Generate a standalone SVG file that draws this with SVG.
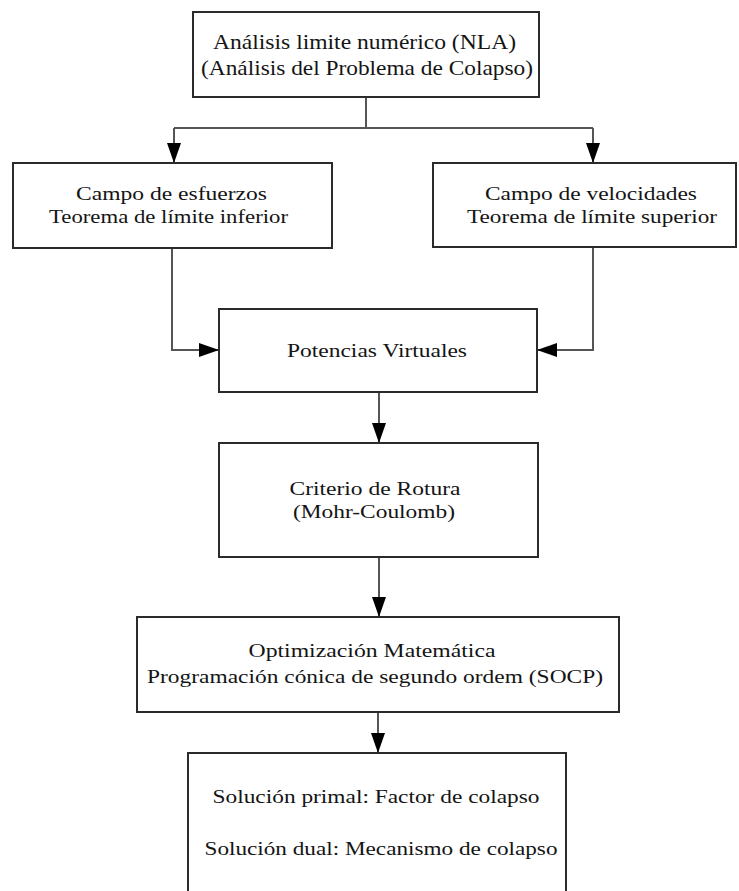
<svg xmlns="http://www.w3.org/2000/svg" width="739" height="891" viewBox="0 0 739 891">
<style>
.box{fill:#fff;stroke:#2b2b2b;stroke-width:2}
.t{font-family:"Liberation Serif","Times New Roman",serif;font-size:19px;fill:#141414;text-anchor:middle}
.big{font-size:22px}
.c{fill:none;stroke:#555;stroke-width:2}
</style>
<defs>
<marker id="ah" viewBox="0 0 20 14" refX="20" refY="7" markerWidth="20" markerHeight="14" markerUnits="userSpaceOnUse" orient="auto">
<path d="M0,0 L20,7 L0,14 Z" fill="#000"/>
</marker>
</defs>
<rect width="739" height="891" fill="#fff"/>
<g id="connectors">
<path class="c" d="M366,97 V128"/>
<path class="c" d="M174,128 H593"/>
<path class="c" d="M174,128 V163" marker-end="url(#ah)"/>
<path class="c" d="M593,128 V163" marker-end="url(#ah)"/>
<path class="c" d="M172,248 V350 H219" marker-end="url(#ah)"/>
<path class="c" d="M593,247 V350 H537" marker-end="url(#ah)"/>
<path class="c" d="M379,392 V443" marker-end="url(#ah)"/>
<path class="c" d="M379,557 V617" marker-end="url(#ah)"/>
<path class="c" d="M378,712 V753" marker-end="url(#ah)"/>
</g>
<g id="nla">
<rect class="box" x="193" y="12" width="346" height="85"/>
<text class="t big" x="364.5" y="49" textLength="303" lengthAdjust="spacingAndGlyphs">Análisis limite numérico (NLA)</text>
<text class="t big" x="367" y="75" textLength="332" lengthAdjust="spacingAndGlyphs">(Análisis del Problema de Colapso)</text>
</g>
<g id="esfuerzos">
<rect class="box" x="13" y="163" width="319" height="85"/>
<text class="t" x="171.5" y="200" textLength="191" lengthAdjust="spacingAndGlyphs">Campo de esfuerzos</text>
<text class="t" x="168.5" y="223" textLength="239" lengthAdjust="spacingAndGlyphs">Teorema de límite inferior</text>
</g>
<g id="velocidades">
<rect class="box" x="433" y="163" width="303" height="84"/>
<text class="t" x="591" y="200" textLength="212" lengthAdjust="spacingAndGlyphs">Campo de velocidades</text>
<text class="t" x="592" y="223" textLength="250" lengthAdjust="spacingAndGlyphs">Teorema de límite superior</text>
</g>
<g id="potencias">
<rect class="box" x="219" y="309" width="318" height="83"/>
<text class="t" x="377" y="357" textLength="180" lengthAdjust="spacingAndGlyphs">Potencias Virtuales</text>
</g>
<g id="criterio">
<rect class="box" x="219" y="443" width="319" height="114"/>
<text class="t" x="375" y="495" textLength="171" lengthAdjust="spacingAndGlyphs">Criterio de Rotura</text>
<text class="t" x="374" y="518" textLength="162" lengthAdjust="spacingAndGlyphs">(Mohr-Coulomb)</text>
</g>
<g id="optimizacion">
<rect class="box" x="137" y="617" width="482" height="95"/>
<text class="t" x="372" y="657" textLength="247" lengthAdjust="spacingAndGlyphs">Optimización Matemática</text>
<text class="t" x="375" y="683" textLength="456" lengthAdjust="spacingAndGlyphs">Programación cónica de segundo ordem (SOCP)</text>
</g>
<g id="solucion">
<rect class="box" x="188" y="753" width="378" height="160"/>
<text class="t" x="376" y="803" textLength="327" lengthAdjust="spacingAndGlyphs">Solución primal: Factor de colapso</text>
<text class="t" x="381" y="855" textLength="353" lengthAdjust="spacingAndGlyphs">Solución dual: Mecanismo de colapso</text>
</g>
</svg>
